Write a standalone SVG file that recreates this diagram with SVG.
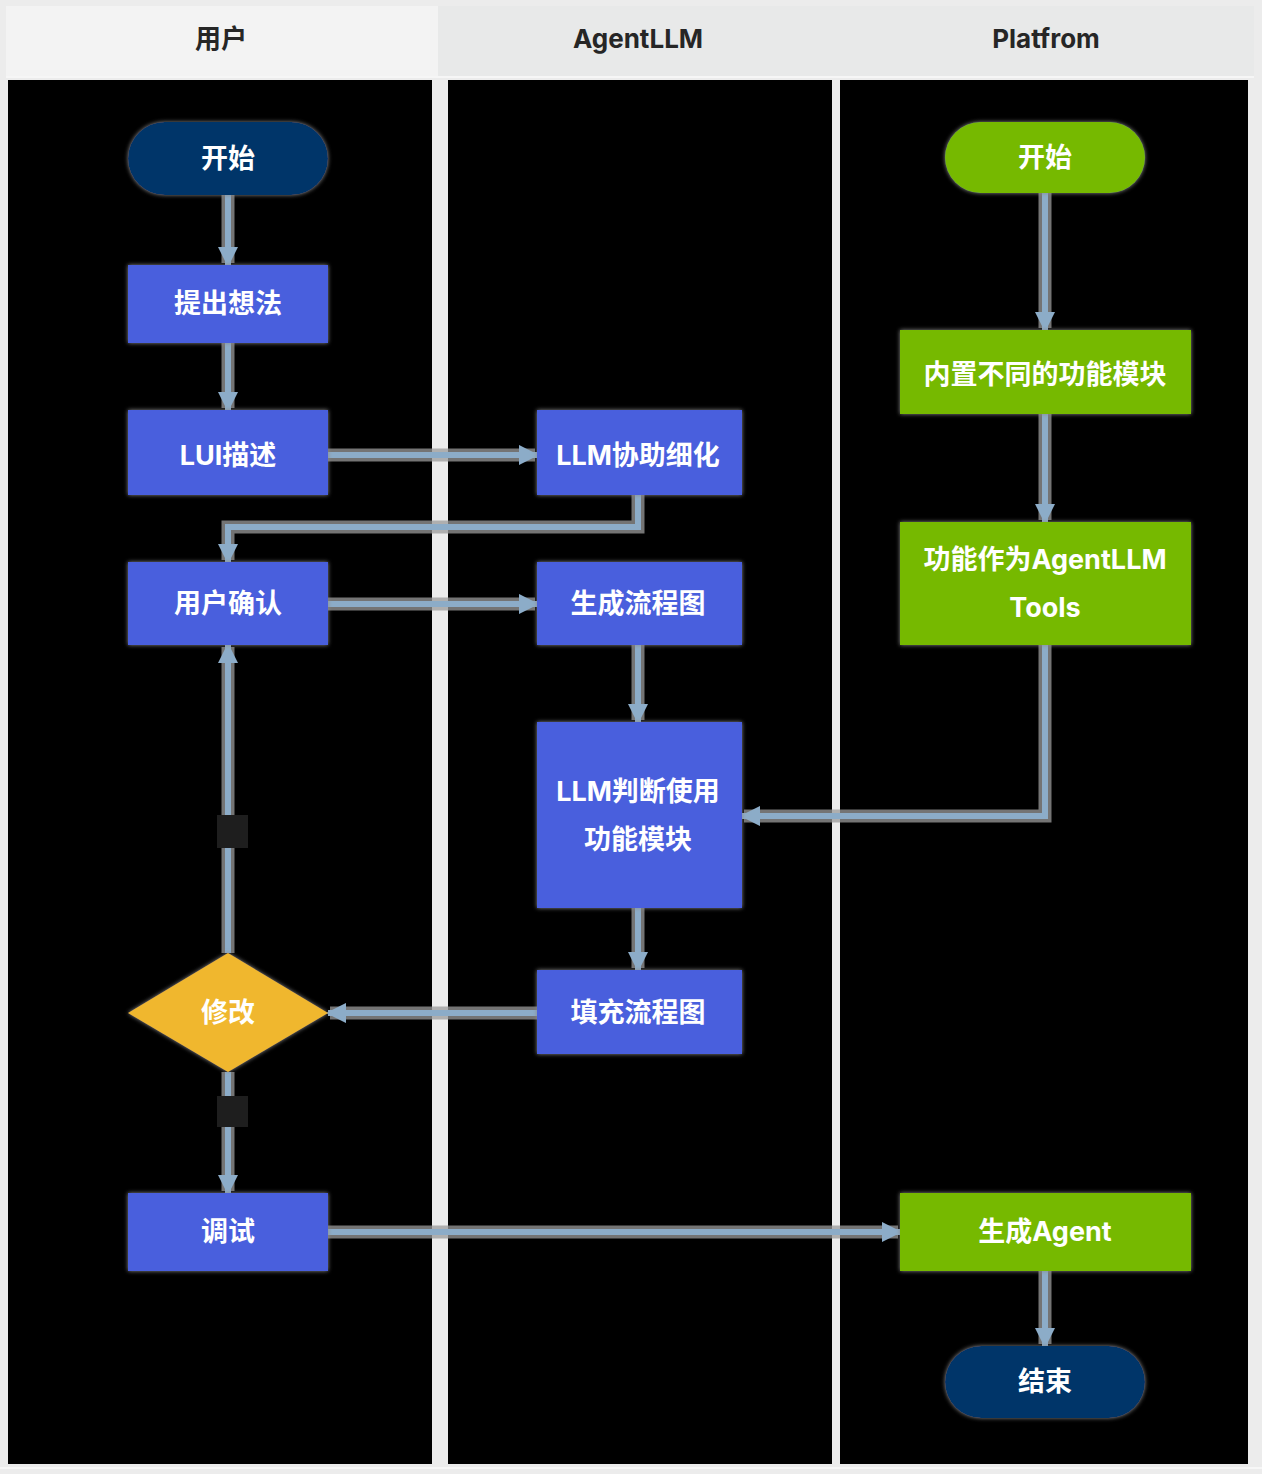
<svg xmlns="http://www.w3.org/2000/svg" width="1262" height="1474" viewBox="0 0 1262 1474">
  <style>
    .hdr { font-family: "Inter", "Noto Sans CJK SC", "Liberation Sans", sans-serif; font-weight: 700; font-size: 26px; fill: #262626; text-anchor: middle; dominant-baseline: central; }
    .lbl { font-family: "Inter", "Noto Sans CJK SC", "Liberation Sans", sans-serif; font-weight: 700; font-size: 27px; fill: #ffffff; text-anchor: middle; dominant-baseline: central; }
    .lane { fill: #000000; }
    .proc { fill: #4a5fdd; filter: url(#halo); }
    .term { fill: #053569; filter: url(#halo); }
    .plat { fill: #76b900; filter: url(#halo); }
    .dec { fill: #f0b72f; filter: url(#halo); }
    .edge-halo { fill: none; stroke: #9b9b9b; stroke-width: 13; stroke-opacity: 0.75; }
    .edge { fill: none; stroke: #8cacc8; stroke-width: 6; }
    .tag { fill: #1e1e1e; }
  </style>
  <defs>
    <filter id="halo" x="-10%" y="-10%" width="120%" height="120%">
      <feDropShadow dx="0" dy="0" stdDeviation="2" flood-color="#8a8a8a" flood-opacity="1"/>
    </filter>
    <marker id="arrow" viewBox="0 0 10 10" refX="9" refY="5" markerWidth="3.4" markerHeight="3.4" orient="auto" markerUnits="strokeWidth">
      <path d="M0,0 L10,5 L0,10 Z" fill="#8cacc8"/>
    </marker>
  </defs>

  <!-- page background and swimlane frame -->
  <rect x="0" y="0" width="1262" height="1474" fill="#ececec"/>
  <rect x="6" y="6" width="432" height="70" fill="#f3f3f3"/>
  <rect x="438" y="6" width="816" height="70" fill="#e8e9e9"/>
  <line x1="6" y1="77" x2="1254" y2="77" stroke="#f6f6f6" stroke-width="2"/>
  <rect class="lane" x="8" y="80" width="424" height="1384"/>
  <rect class="lane" x="448" y="80" width="384" height="1384"/>
  <rect class="lane" x="840" y="80" width="408" height="1384"/>
  <line x1="0" y1="1468" x2="1262" y2="1468" stroke="#f7f7f7" stroke-width="2"/>

  <g id="lane-headers">
    <text class="hdr" x="221" y="38">用户</text>
    <text class="hdr" x="638" y="38">AgentLLM</text>
    <text class="hdr" x="1046" y="38">Platfrom</text>
  </g>

  <!-- connectors -->
  <g id="connectors">
    <g class="halos">
      <path class="edge-halo" d="M228,195 V263"/>
      <path class="edge-halo" d="M228,343 V408"/>
      <path class="edge-halo" d="M328,455 H535"/>
      <path class="edge-halo" d="M638,495 V527 H228 V560"/>
      <path class="edge-halo" d="M328,604 H535"/>
      <path class="edge-halo" d="M638,645 V720"/>
      <path class="edge-halo" d="M638,908 V968"/>
      <path class="edge-halo" d="M537,1013 H330"/>
      <path class="edge-halo" d="M228,953 V647"/>
      <path class="edge-halo" d="M228,1072 V1191"/>
      <path class="edge-halo" d="M328,1232 H898"/>
      <path class="edge-halo" d="M1045,193 V328"/>
      <path class="edge-halo" d="M1045,414 V520"/>
      <path class="edge-halo" d="M1045,645 V816 H744"/>
      <path class="edge-halo" d="M1045,1271 V1344"/>
    </g>
    <path id="e-start-idea" class="edge" d="M228,195 V265" marker-end="url(#arrow)"/>
    <path id="e-idea-lui" class="edge" d="M228,343 V410" marker-end="url(#arrow)"/>
    <path id="e-lui-refine" class="edge" d="M328,455 H537" marker-end="url(#arrow)"/>
    <path id="e-refine-confirm" class="edge" d="M638,495 V527 H228 V562" marker-end="url(#arrow)"/>
    <path id="e-confirm-gen" class="edge" d="M328,604 H537" marker-end="url(#arrow)"/>
    <path id="e-gen-judge" class="edge" d="M638,645 V722" marker-end="url(#arrow)"/>
    <path id="e-judge-fill" class="edge" d="M638,908 V970" marker-end="url(#arrow)"/>
    <path id="e-fill-modify" class="edge" d="M537,1013 H328" marker-end="url(#arrow)"/>
    <path id="e-modify-confirm" class="edge" d="M228,953 V645" marker-end="url(#arrow)"/>
    <path id="e-modify-debug" class="edge" d="M228,1072 V1193" marker-end="url(#arrow)"/>
    <path id="e-debug-agent" class="edge" d="M328,1232 H900" marker-end="url(#arrow)"/>
    <path id="e-pstart-builtin" class="edge" d="M1045,193 V330" marker-end="url(#arrow)"/>
    <path id="e-builtin-tools" class="edge" d="M1045,414 V522" marker-end="url(#arrow)"/>
    <path id="e-tools-judge" class="edge" d="M1045,645 V816 H742" marker-end="url(#arrow)"/>
    <path id="e-agent-end" class="edge" d="M1045,1271 V1346" marker-end="url(#arrow)"/>
    <!-- branch label plates on the decision edges -->
    <rect class="tag" x="217" y="815" width="31" height="33"/>
    <rect class="tag" x="217" y="1096" width="31" height="31"/>
  </g>

  <!-- user lane -->
  <g id="user-start">
    <rect class="term" x="128" y="122" width="200" height="73" rx="36.5"/>
    <text class="lbl" x="228" y="158">开始</text>
  </g>
  <g id="idea">
    <rect class="proc" x="128" y="265" width="200" height="78"/>
    <text class="lbl" x="228" y="303">提出想法</text>
  </g>
  <g id="lui">
    <rect class="proc" x="128" y="410" width="200" height="85"/>
    <text class="lbl" x="228" y="455">LUI描述</text>
  </g>
  <g id="confirm">
    <rect class="proc" x="128" y="562" width="200" height="83"/>
    <text class="lbl" x="228" y="603">用户确认</text>
  </g>
  <g id="modify">
    <path class="dec" d="M228,953 L328,1013 L228,1072 L128,1013 Z"/>
    <text class="lbl" x="228" y="1012">修改</text>
  </g>
  <g id="debug">
    <rect class="proc" x="128" y="1193" width="200" height="78"/>
    <text class="lbl" x="228" y="1231">调试</text>
  </g>

  <!-- AgentLLM lane -->
  <g id="refine">
    <rect class="proc" x="537" y="410" width="205" height="85"/>
    <text class="lbl" x="638" y="455">LLM协助细化</text>
  </g>
  <g id="gen-flow">
    <rect class="proc" x="537" y="562" width="205" height="83"/>
    <text class="lbl" x="638" y="603">生成流程图</text>
  </g>
  <g id="judge">
    <rect class="proc" x="537" y="722" width="205" height="186"/>
    <text class="lbl" x="638" y="791">LLM判断使用</text>
    <text class="lbl" x="638" y="839">功能模块</text>
  </g>
  <g id="fill-flow">
    <rect class="proc" x="537" y="970" width="205" height="84"/>
    <text class="lbl" x="638" y="1012">填充流程图</text>
  </g>

  <!-- Platform lane -->
  <g id="platform-start">
    <rect class="plat" x="945" y="122" width="200" height="71" rx="35.5"/>
    <text class="lbl" x="1045" y="157">开始</text>
  </g>
  <g id="builtin">
    <rect class="plat" x="900" y="330" width="291" height="84"/>
    <text class="lbl" x="1045" y="374">内置不同的功能模块</text>
  </g>
  <g id="tools">
    <rect class="plat" x="900" y="522" width="291" height="123"/>
    <text class="lbl" x="1045" y="559">功能作为AgentLLM</text>
    <text class="lbl" x="1045" y="607">Tools</text>
  </g>
  <g id="gen-agent">
    <rect class="plat" x="900" y="1193" width="291" height="78"/>
    <text class="lbl" x="1045" y="1231">生成Agent</text>
  </g>
  <g id="end">
    <rect class="term" x="945" y="1346" width="200" height="72" rx="36"/>
    <text class="lbl" x="1045" y="1381">结束</text>
  </g>
</svg>
